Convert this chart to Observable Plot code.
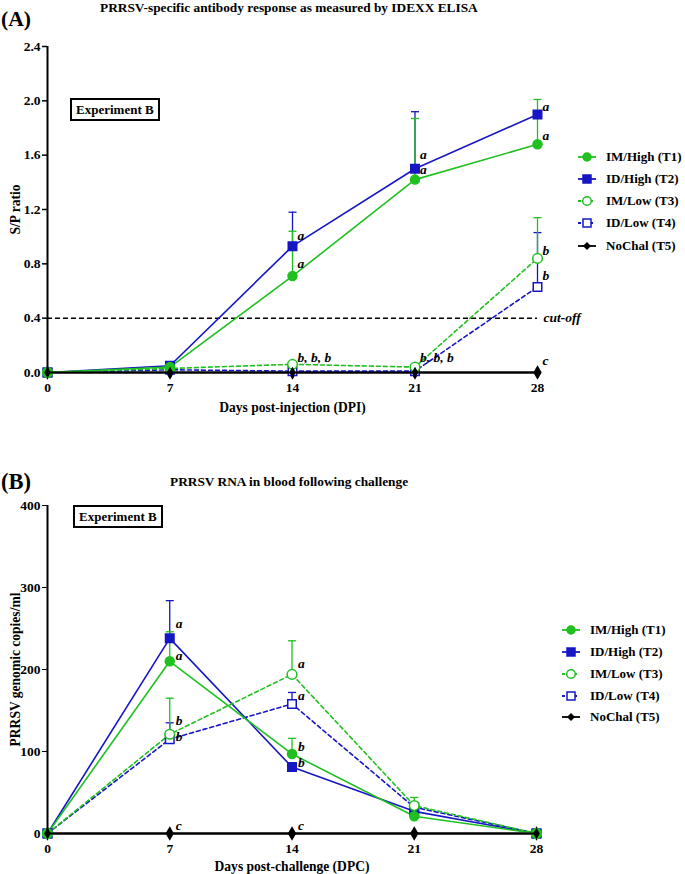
<!DOCTYPE html>
<html>
<head>
<meta charset="utf-8">
<script src="https://cdn.jsdelivr.net/npm/d3@7"></script>
<script src="https://cdn.jsdelivr.net/npm/@observablehq/plot@0.6"></script>
<style>
  body { margin:0; background:#fff; }
  #root { position:relative; width:685px; height:874px; font-family:"Liberation Serif", serif; font-weight:bold; color:#000; overflow:hidden; }
  .abs { position:absolute; white-space:nowrap; line-height:1; }
  .expbox { border:2px solid #000; font-size:13px; padding:2px 4px; line-height:15px; }
  .legrow { position:absolute; display:flex; align-items:center; font-size:13px; height:16px; }
  .legrow svg { margin-right:10px; }
</style>
</head>
<body>
<div id="root"></div>
<script>
// ---------- data ----------
const days = [0, 7, 14, 21, 28];
const groups = ["IM/High (T1)", "ID/High (T2)", "IM/Low (T3)", "ID/Low (T4)", "NoChal (T5)"];

// Panel A: S/P ratio (mean) and upper error-bar ends
const spT1 = [0, 0.04, 0.71, 1.42, 1.68];
const spT2 = [0, 0.05, 0.93, 1.50, 1.90];
const spT3 = [0, 0.03, 0.06, 0.04, 0.84];
const spT4 = [0, 0.02, 0.01, 0.01, 0.63];
const spT5 = [0, 0, 0, 0, 0];
const spT1Up = [null, null, 1.04, 1.87, 2.01];
const spT2Up = [null, null, 1.18, 1.92, null];
const spT3Up = [null, null, null, null, 1.14];
const spT4Up = [null, null, null, null, 1.03];
const spT5Up = [null, null, null, null, null];
const cutoff = 0.4;
const spTicks = [0, 0.4, 0.8, 1.2, 1.6, 2.0, 2.4];

// Panel A letters
const annADay = [14, 14, 21, 21, 28, 28, 28, 28, 14, 21, 28];
const annAPos = [1.01, 0.80, 1.60, 1.49, 1.96, 1.74, 0.90, 0.71, 0.11, 0.11, 0.09];
const annAText = ["a", "a", "a", "a", "a", "a", "b", "b", "b, b, b", "b, b, b", "c"];

// Panel B: PRRSV RNA copies/ml
const rnaT1 = [0, 210, 97, 21, 0];
const rnaT2 = [0, 238, 81, 27, 0];
const rnaT3 = [0, 121, 194, 34, 0];
const rnaT4 = [0, 115, 158, 32, 0];
const rnaT5 = [0, 0, 0, 0, 0];
const rnaT1Up = [null, 246, 116, 30, null];
const rnaT2Up = [null, 284, null, 33, null];
const rnaT3Up = [null, 165, 235, 44, null];
const rnaT4Up = [null, 135, 172, 38, null];
const rnaT5Up = [null, null, null, null, null];
const rnaTicks = [0, 100, 200, 300, 400];

// Panel B letters
const annBDay = [7, 7, 7, 7, 14, 14, 14, 14, 7, 14];
const annBPos = [256, 217, 137, 118, 207, 168, 106, 86, 10, 10];
const annBText = ["a", "a", "b", "b", "a", "a", "b", "b", "c", "c"];

// ---------- helpers ----------
const FAM = "Liberation Serif";
const ctx = document.createElement("canvas").getContext("2d");
function fit(text, target, italic) {
  ctx.font = `${italic ? "italic " : ""}bold 100px "${FAM}"`;
  return +(100 * target / ctx.measureText(text).width).toFixed(2);
}

// ---------- styling ----------
const GREEN = "#1fc01f", BLUE = "#1616c4", BLACK = "#000";
const style = [
  {color: GREEN, symbol: "circle", fill: GREEN, dash: null, r: 4.5},
  {color: BLUE, symbol: "square", fill: BLUE, dash: null, r: 4.8},
  {color: GREEN, symbol: "circle", fill: "white", dash: "4,3", r: 4.8},
  {color: BLUE, symbol: "square", fill: "white", dash: "4,3", r: 4.8},
  {color: BLACK, symbol: "diamond", fill: BLACK, dash: null, r: 3.5}
];
const capSymbol = {draw(c, size) { const h = Math.sqrt(size / Math.PI); c.moveTo(-h, 0); c.lineTo(h, 0); }};

function tidy(series, ups) {
  const rows = [];
  series.forEach((vals, gi) => vals.forEach((v, di) => rows.push({group: groups[gi], gi, day: days[di], v, up: ups[gi][di]})));
  return rows;
}

function seriesMarks(rows) {
  const marks = [];
  for (const gi of [4, 3, 1, 2, 0]) {
    const s = style[gi];
    const d = rows.filter(r => r.gi === gi);
    const e = d.filter(r => r.up != null);
    marks.push(Plot.ruleX(e, {x: "day", y1: "v", y2: "up", stroke: s.color, strokeWidth: 1.3}));
    marks.push(Plot.dot(e, {x: "day", y: "up", symbol: capSymbol, r: 4, stroke: s.color, fill: "none", strokeWidth: 1.3}));
    marks.push(Plot.line(d, {x: "day", y: "v", stroke: s.color, strokeWidth: gi === 4 ? 2 : 1.6, strokeDasharray: s.dash}));
  }
  for (const gi of [4, 3, 1, 2, 0]) {
    const s = style[gi];
    const d = rows.filter(r => r.gi === gi);
    marks.push(Plot.dot(d, {x: "day", y: "v", symbol: s.symbol, r: s.r, fill: s.fill, stroke: s.color, strokeWidth: 1.5}));
  }
  return marks;
}

const axisFont = fit("Days post-challenge (DPC)", 155);
const tickFont = 13.5;
const baseStyle = {fontFamily: `"${FAM}", serif`, fontWeight: "bold", fontSize: tickFont + "px", color: "#000", background: "transparent", overflow: "visible"};

// ---------- Panel A ----------
const rowsA = tidy([spT1, spT2, spT3, spT4, spT5], [spT1Up, spT2Up, spT3Up, spT4Up, spT5Up]);
const annA = annADay.map((d, i) => ({day: d, y: annAPos[i], t: annAText[i]}));
const plotA = Plot.plot({
  width: 685, height: 375,
  marginLeft: 47, marginRight: 148, marginTop: 6, marginBottom: 43,
  style: baseStyle,
  x: {domain: [0, 28]},
  y: {domain: [0, 2.4]},
  marks: [
    Plot.axisY({ticks: spTicks, tickFormat: d => d.toFixed(1), tickSize: 5, tickPadding: 2, strokeWidth: 1.5, label: null}),
    Plot.axisY({ticks: [], label: "S/P ratio", labelAnchor: "center", labelArrow: "none", labelOffset: 37, fontSize: axisFont}),
    Plot.axisX({ticks: days, tickFormat: d => String(d), tickSize: 0, tickPadding: 10, label: null}),
    Plot.axisX({ticks: [], label: "Days post-injection (DPI)", labelAnchor: "center", labelArrow: "none", labelOffset: 39, fontSize: axisFont}),
    Plot.ruleY([cutoff], {strokeDasharray: "5,3", strokeWidth: 1.5, stroke: "#000"}),
    Plot.text([cutoff], {x: 28, y: d => d, text: () => "cut-off", textAnchor: "start", dx: 6, fontStyle: "italic", fontSize: 13.5}),
    ...seriesMarks(rowsA),
    Plot.ruleX([0], {strokeWidth: 2}),
    Plot.ruleY([0], {strokeWidth: 2}),
    Plot.dot(rowsA.filter(r => r.gi === 4), {x: "day", y: "v", symbol: "diamond", r: 3.5, fill: "#000"}),
    Plot.text(annA, {x: "day", y: "y", text: "t", textAnchor: "start", dx: 5, fontStyle: "italic", fontSize: 13.5})
  ]
});

// ---------- Panel B ----------
const rowsB = tidy([rnaT1, rnaT2, rnaT3, rnaT4, rnaT5], [rnaT1Up, rnaT2Up, rnaT3Up, rnaT4Up, rnaT5Up]);
const annB = annBDay.map((d, i) => ({day: d, y: annBPos[i], t: annBText[i]}));
const plotB = Plot.plot({
  width: 685, height: 433,
  marginLeft: 47, marginRight: 149, marginTop: 65, marginBottom: 40,
  style: baseStyle,
  x: {domain: [0, 28]},
  y: {domain: [0, 400]},
  marks: [
    Plot.axisY({ticks: rnaTicks, tickFormat: d => String(d), tickSize: 5, tickPadding: 2, label: null}),
    Plot.axisY({ticks: [], label: "PRRSV genomic copies/ml", labelAnchor: "center", labelArrow: "none", labelOffset: 37, fontSize: axisFont}),
    Plot.axisX({ticks: days, tickFormat: d => String(d), tickSize: 0, tickPadding: 10, label: null}),
    Plot.axisX({ticks: [], label: "Days post-challenge (DPC)", labelAnchor: "center", labelArrow: "none", labelOffset: 37, fontSize: axisFont}),
    ...seriesMarks(rowsB),
    Plot.ruleX([0], {strokeWidth: 2}),
    Plot.ruleY([0], {strokeWidth: 2}),
    Plot.dot(rowsB.filter(r => r.gi === 4), {x: "day", y: "v", symbol: "diamond", r: 3.5, fill: "#000"}),
    Plot.text(annB, {x: "day", y: "y", text: "t", textAnchor: "start", dx: 6, fontStyle: "italic", fontSize: 13.5})
  ]
});

// ---------- layout ----------
const root = document.getElementById("root");
function place(el, left, top) { el.style.position = "absolute"; el.style.left = left + "px"; el.style.top = top + "px"; root.appendChild(el); return el; }
function div(cls, text, left, top, size) { const d = document.createElement("div"); d.className = "abs " + cls; d.textContent = text; if (size) d.style.fontSize = size + "px"; return place(d, left, top); }

place(plotA, 0, 40);
place(plotB, 0, 440);

const titleA = "PRRSV-specific antibody response as measured by IDEXX ELISA";
const titleB = "PRRSV RNA in blood following challenge";
const tSize = fit(titleA, 378);
div("panel", "(A)", 1, 9, fit("(A)", 30));
div("title", titleA, 100, 1, tSize);
div("expbox", "Experiment B", 70, 98);
div("panel", "(B)", 1, 471, fit("(B)", 30));
div("title", titleB, 170, 475, tSize);
div("expbox", "Experiment B", 73, 505);

function legend(left, tops) {
  groups.forEach((g, i) => {
    const s = style[i];
    const row = document.createElement("div");
    row.className = "legrow";
    const sym = s.symbol === "circle" ? `<circle cx="9" cy="8" r="${s.r - 0.5}" fill="${s.fill}" stroke="${s.color}" stroke-width="1.5"/>`
      : s.symbol === "square" ? `<rect x="${9 - s.r + 0.8}" y="${8 - s.r + 0.8}" width="${2 * s.r - 1.6}" height="${2 * s.r - 1.6}" fill="${s.fill}" stroke="${s.color}" stroke-width="1.5"/>`
      : `<path d="M9,4 L13,8 L9,12 L5,8 Z" fill="#000"/>`;
    row.innerHTML = `<svg width="18" height="16"><line x1="0" y1="8" x2="18" y2="8" stroke="${s.color}" stroke-width="1.8" ${s.dash ? 'stroke-dasharray="3,3"' : ''}/>${sym}</svg><span>${g}</span>`;
    place(row, left, tops[i] - 8);
  });
}
legend(578, [157, 179, 201, 223, 246]);
legend(562, [630, 652, 674, 696, 717]);
</script>
</body>
</html>
